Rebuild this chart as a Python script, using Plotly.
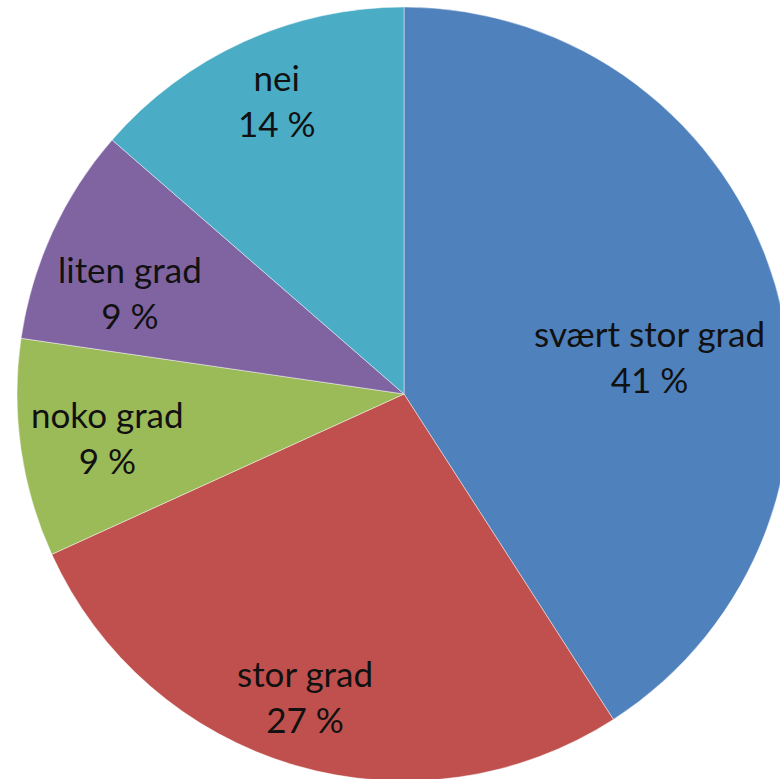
import plotly.graph_objects as go

categories = ["svært stor grad", "stor grad", "noko grad", "liten grad", "nei"]
values = [40.9, 27.3, 9.1, 9.1, 13.6]
pct_labels = ["41 %", "27 %", "9 %", "9 %", "14 %"]
colors = ["#4F81BD", "#C0504D", "#9BBB59", "#8064A2", "#4BACC6"]

W, H = 791, 781
ML, MR, MT, MB = 17, 0, 7, 0
PAGE_OFF = 0
# label block centres (page pixel positions)
label_pos = [(649, 356), (305, 696), (107, 437), (130, 292), (277, 100)]

fig = go.Figure(go.Pie(
    labels=categories,
    values=values,
    sort=False,
    direction="clockwise",
    rotation=0,
    marker=dict(colors=colors, line=dict(color="rgba(255,255,255,0.45)", width=1)),
    textinfo="none",
    hoverinfo="label+percent",
    showlegend=False,
))

aw, ah = W - ML - MR, H - MT - MB
for cat, pct, (px, py) in zip(categories, pct_labels, label_pos):
    fx, fy = px - PAGE_OFF, py - PAGE_OFF
    fig.add_annotation(
        x=(fx - ML) / aw, y=1 - (fy - MT) / ah, xref="paper", yref="paper",
        xanchor="center", yanchor="middle",
        text=f"{cat}<br>{pct}", showarrow=False,
        font=dict(family="Lato, Open Sans, sans-serif", size=35, color="#111111"),
        align="center",
    )

fig.update_layout(
    width=W, height=H,
    margin=dict(l=ML, r=MR, t=MT, b=MB),
    paper_bgcolor="white",
    plot_bgcolor="white",
)

fig.write_html(
    "out.html",
    config={"displayModeBar": False},
    post_script="document.body.style.margin='0';document.body.style.overflow='hidden';"
                "document.documentElement.style.overflow='hidden';",
)
